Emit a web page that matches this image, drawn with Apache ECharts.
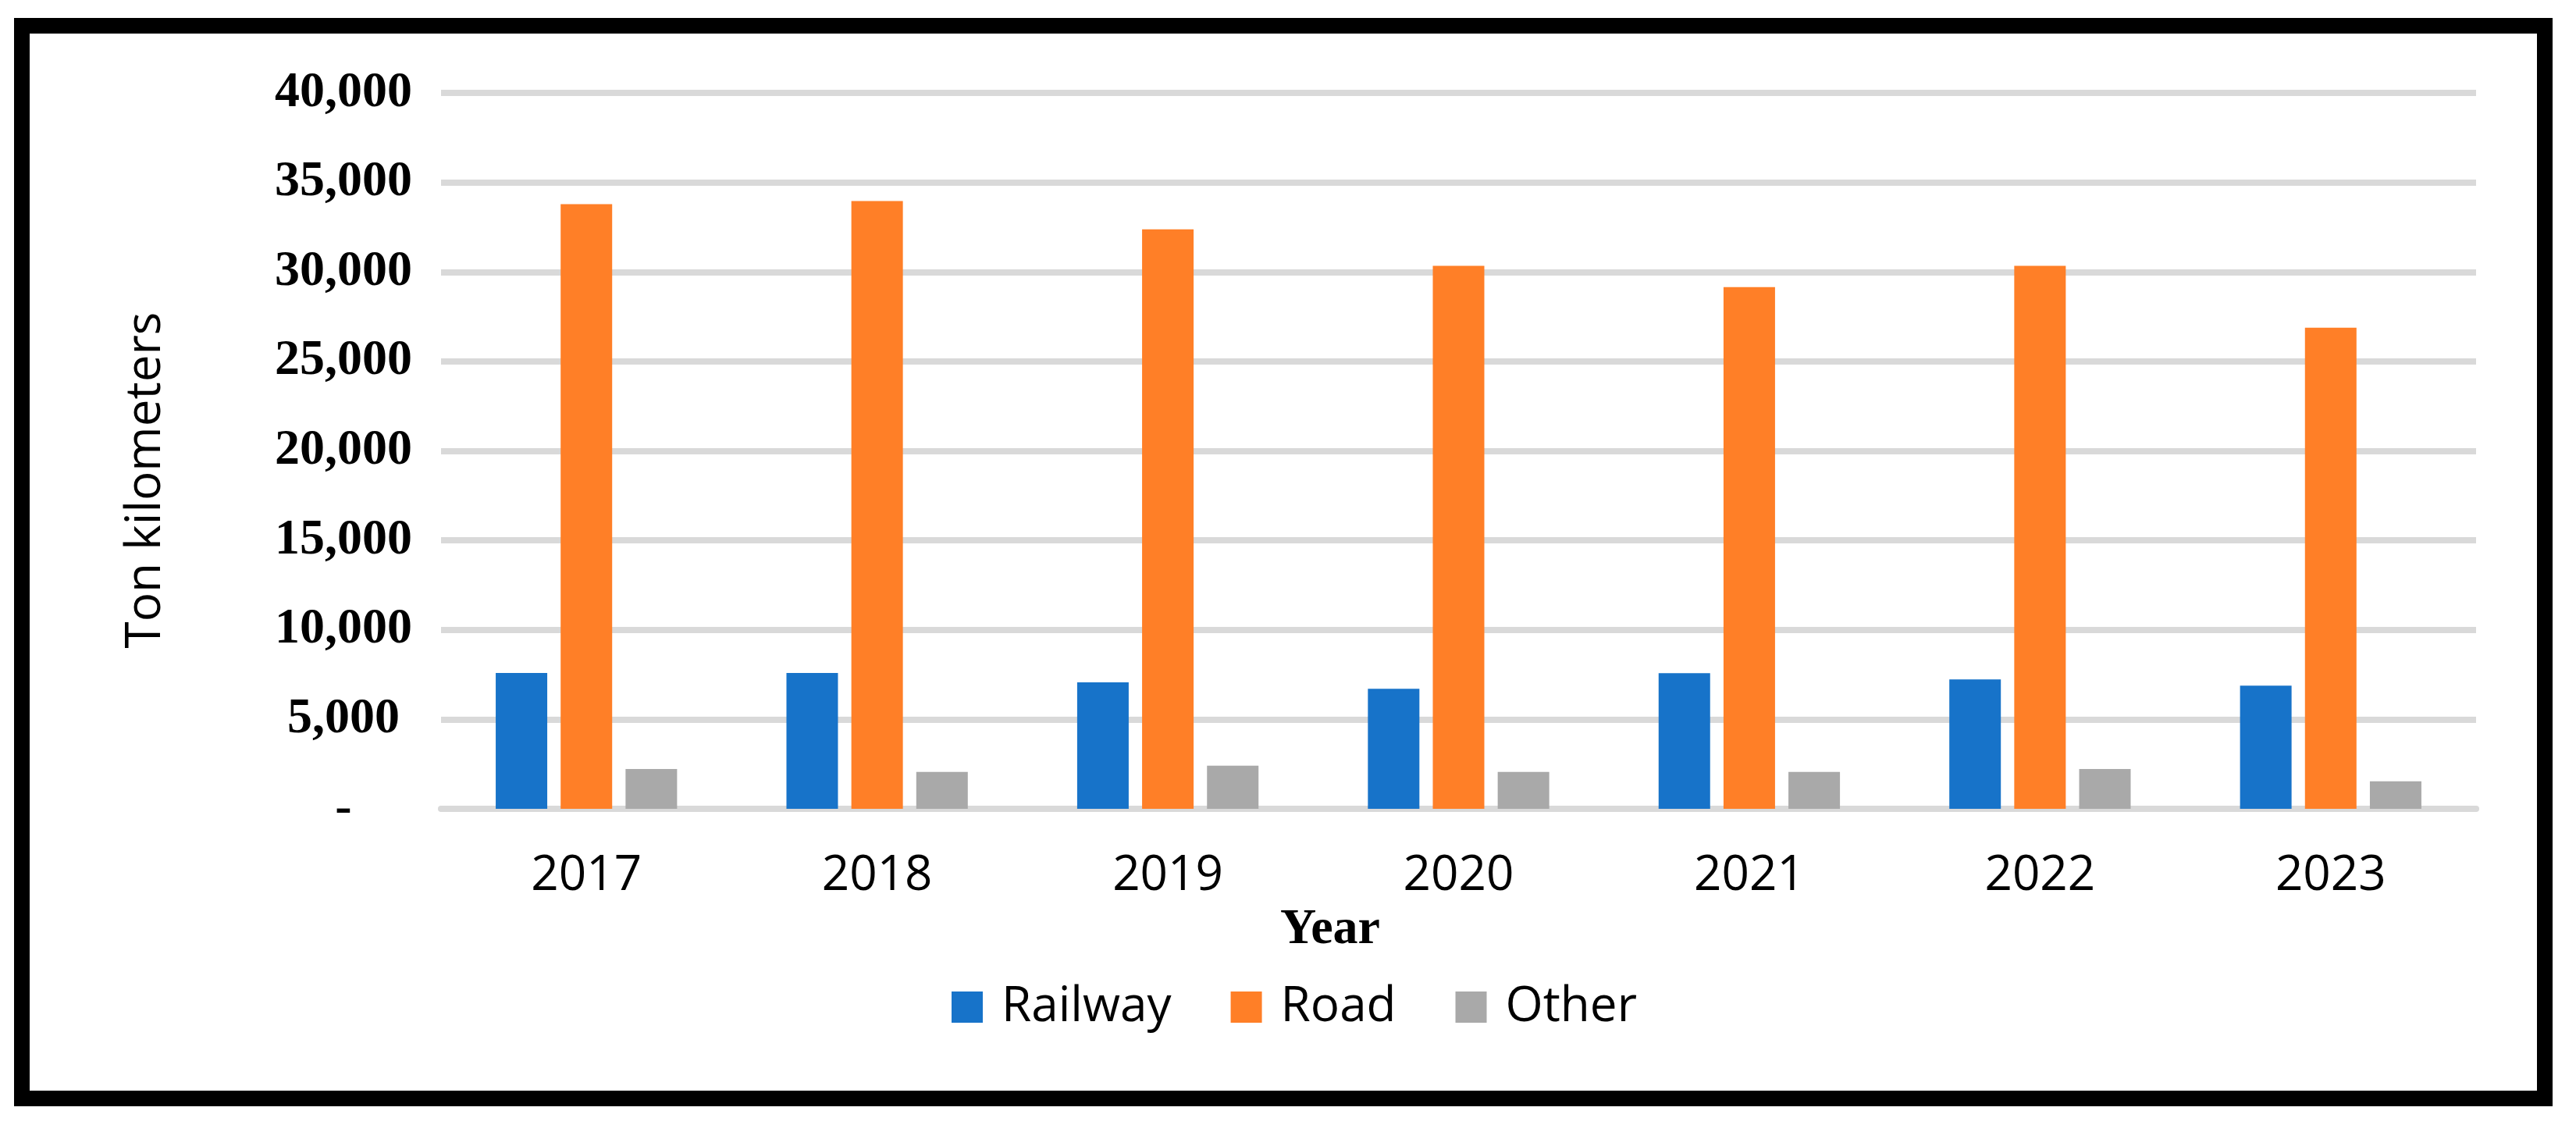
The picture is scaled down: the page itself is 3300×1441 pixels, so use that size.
<!DOCTYPE html>
<html>
<head>
<meta charset="utf-8">
<script src="https://cdn.jsdelivr.net/npm/echarts@6/dist/echarts.min.js"></script>
<style>
html,body{margin:0;padding:0;background:#fff;}
#chart{width:3300px;height:1441px;}
</style>
</head>
<body>
<div id="chart"></div>
<script>
const categories = ['2017', '2018', '2019', '2020', '2021', '2022', '2023'];
const railway = [7590, 7590, 7070, 6710, 7580, 7230, 6880];
const road = [33780, 33960, 32380, 30340, 29150, 30340, 26880];
const other = [2230, 2060, 2410, 2060, 2060, 2230, 1540];
const seriesNames = ['Railway', 'Road', 'Other'];
const colors = ['#1773C9', '#FF7F27', '#A9A9A9'];
const yTitle = 'Ton kilometers';
const xTitle = 'Year';

const chart = echarts.init(document.getElementById('chart'), null, {renderer: 'canvas'});

const option = {
  backgroundColor: '#ffffff',
  animation: false,
  color: colors,
  grid: {left: 565, right: 128, top: 119, bottom: 405, containLabel: false},
  legend: {
    data: seriesNames,
    left: 1214,
    top: 1254,
    itemWidth: 40,
    itemHeight: 40,
    itemGap: 76,
    icon: 'rect',
    textStyle: {fontFamily: 'Open Sans', fontSize: 62, color: '#000', lineHeight: 62, padding: [0, 0, 0, 19]}
  },
  xAxis: {
    type: 'category',
    data: categories,
    axisTick: {show: false},
    axisLine: {show: true, lineStyle: {color: '#D9D9D9', width: 8}},
    axisLabel: {fontFamily: 'Open Sans', fontSize: 62, color: '#000', margin: 55}
  },
  yAxis: {
    type: 'value',
    min: 0,
    max: 40000,
    interval: 5000,
    axisLine: {show: false},
    axisTick: {show: false},
    splitLine: {show: true, lineStyle: {color: '#D9D9D9', width: 8}},
    axisLabel: {
      fontFamily: 'Liberation Serif',
      fontWeight: 'bold',
      fontSize: 64,
      color: '#000',
      align: 'center',
      margin: 125,
      formatter: function (v) { return v === 0 ? '-' : v.toLocaleString('en-US'); }
    }
  },
  series: seriesNames.map(function (name, i) {
    return {
      name: name,
      type: 'bar',
      data: [railway, road, other][i],
      barWidth: 66,
      barGap: '26%',
      itemStyle: {color: colors[i]}
    };
  }),
  graphic: [
    {
      type: 'rect',
      shape: {x: 28, y: 33, width: 3232, height: 1374},
      style: {fill: 'none', stroke: '#000', lineWidth: 20},
      silent: true
    },
    {
      type: 'text',
      x: 187,
      y: 615,
      rotation: Math.PI / 2,
      style: {text: yTitle, fontFamily: 'Open Sans', fontSize: 62, fill: '#000', textAlign: 'center', textVerticalAlign: 'middle'}
    },
    {
      type: 'text',
      x: 1704,
      y: 1191,
      style: {text: xTitle, fontFamily: 'Liberation Serif', fontWeight: 'bold', fontSize: 64, fill: '#000', textAlign: 'center', textVerticalAlign: 'middle'}
    }
  ]
};
chart.setOption(option);
</script>
</body>
</html>
